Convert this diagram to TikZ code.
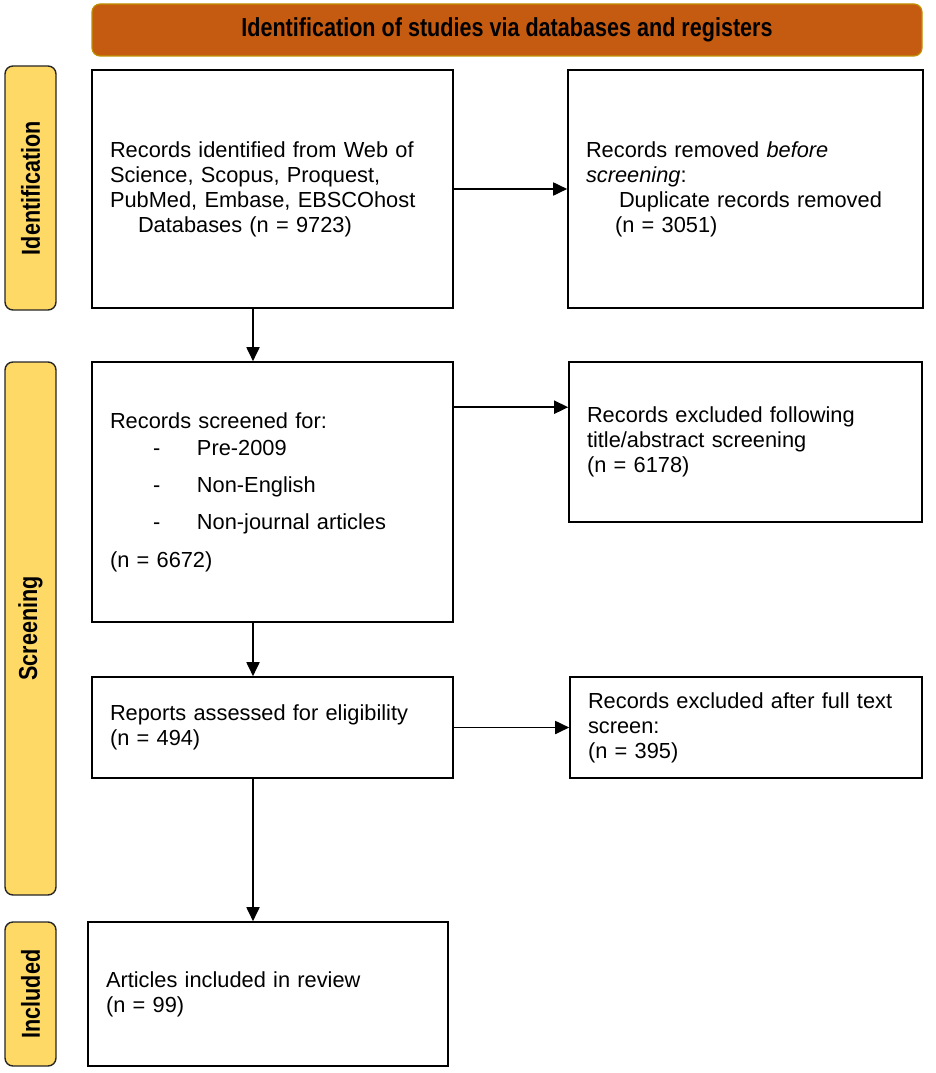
\documentclass[tikz,border=0pt]{standalone}
\usepackage{fontspec}
\setmainfont{Liberation Sans}
\newfontfamily\headfont{Liberation Sans}[FakeStretch=0.83]
\usetikzlibrary{calc,positioning,arrows.meta,shapes}

\definecolor{headOrange}{HTML}{C55A11}
\definecolor{headRim}{HTML}{BF9000}
\definecolor{barYellow}{HTML}{FFD966}

\newcommand{\dashItem}[1]{\hspace*{43pt}\makebox[44pt][l]{-}#1}

\begin{document}
\begin{tikzpicture}[x=1pt,y=-1pt]
  \useasboundingbox (0,0) rectangle (935,1073);
  \tikzset{
    headBar/.style={rectangle,rounded corners=8pt,draw=headRim,fill=headOrange,line width=1.2pt,
      minimum width=830pt,minimum height=52pt,font=\headfont\bfseries\fontsize{26pt}{30pt}\selectfont},
    phaseBar/.style={rectangle,rounded corners=8pt,draw=black!85,fill=barYellow,line width=1.4pt,
      rotate=90,minimum height=51pt,inner sep=0pt,font=\headfont\bfseries\fontsize{26pt}{30pt}\selectfont},
    studyBox/.style={rectangle,draw=black,line width=1.6pt,inner xsep=18pt,inner ysep=0pt,
      align=left,font=\fontsize{21.8pt}{25pt}\selectfont},
    % edge styles
    flowArrow/.style={line width=1.8pt,-{Triangle[length=14pt,width=13pt]}}
  }

  %%% Header and phase labels

  \node[headBar] (header) at (507,30) {Identification of studies via databases and registers};

  \node[phaseBar,minimum width=244pt] (identBar) at (30.5,188) {Identification};
  \node[phaseBar,minimum width=533pt] (screenBar) at (30.5,628.5) {Screening};
  \node[phaseBar,minimum width=144pt] (inclBar) at (30.5,994) {Included};

  %%% Left column

  \node[studyBox,text width=325pt,minimum height=238pt] (recIdent) at (272.5,189)
    {Records identified from Web of\\
     Science, Scopus, Proquest,\\
     PubMed, Embase, EBSCOhost\\
     \hspace*{28pt}Databases (n = 9723)};

  \node[studyBox,text width=325pt,minimum height=260pt] (recScreen) at (272.5,492)
    {Records screened for:\\[2pt]
     \dashItem{Pre-2009}\\[12pt]
     \dashItem{Non-English}\\[12pt]
     \dashItem{Non-journal articles}\\[13pt]
     (n = 6672)};

  \node[studyBox,text width=325pt,minimum height=101pt] (repAssess) at (272.5,727.5)
    {Reports assessed for eligibility\\
     (n = 494)};

  \node[studyBox,text width=324pt,minimum height=144pt] (artIncl) at (268,994)
    {Articles included in review\\
     (n = 99)};

  %%% Right column

  \node[studyBox,text width=319pt,minimum height=238pt] (recRemoved) at (745.5,189)
    {Records removed \textit{before}\\
     \textit{screening}:\\
     \hspace*{33pt}Duplicate records removed\\
     \hspace*{29pt}(n = 3051)};

  \node[studyBox,text width=317pt,minimum height=160pt] (exclTitle) at (745.5,442)
    {Records excluded following\\
     title/abstract screening\\
     (n = 6178)};

  \node[studyBox,text width=316pt,minimum height=101pt] (exclFull) at (746,727.5)
    {Records excluded after full text\\
     screen:\\
     (n = 395)};

  %%% Connectors

  \coordinate (spine) at (253,0);

  \draw[flowArrow] (recIdent.east) -- (recRemoved.west);
  \draw[flowArrow] ([yshift=-46pt]recScreen.north east) -- ([yshift=-46pt]exclTitle.north west);
  \draw[flowArrow] (repAssess.east) -- (exclFull.west);

  \draw[flowArrow] (recIdent.south -| spine) -- (recScreen.north -| spine);
  \draw[flowArrow] (recScreen.south -| spine) -- (repAssess.north -| spine);
  \draw[flowArrow] (repAssess.south -| spine) -- (artIncl.north -| spine);

\end{tikzpicture}
\end{document}
